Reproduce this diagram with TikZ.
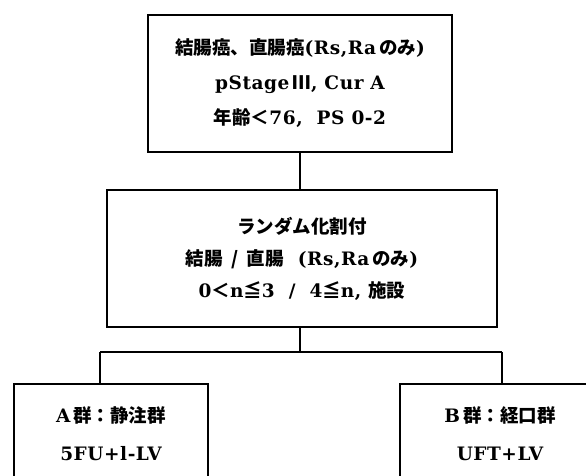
\documentclass[tikz,border=0pt]{standalone}
\usepackage{fontspec}
\setmainfont{DejaVu Serif}[BoldFont={DejaVu Serif Bold},LetterSpace=3]
\newfontfamily\jpb{Noto Sans CJK JP Bold}
\newfontfamily\jpm{Noto Sans CJK JP Medium}
\newcommand{\Jb}[1]{{\jpb #1}}
\newcommand{\Jm}[1]{{\jpm #1}}
\begin{document}
\begin{tikzpicture}[x=1pt,y=-1pt,
  box/.style={draw,line width=2pt,inner sep=0pt,align=center,font=\bfseries\fontsize{18.5}{35}\selectfont},
  link/.style={line width=1.6pt}]
\useasboundingbox (0,0) rectangle (586,475);
\clip (0,0) rectangle (586,475);
\node[box,minimum width=304pt,minimum height=137pt] (top) at (300,83.5)
  {\Jb{結腸癌、直腸癌}(Rs,Ra\,\Jm{のみ})\\ pStage\,\Jb{Ⅲ}, Cur A\\ \Jb{年齢＜}76,\ \ PS 0-2};
\node[box,minimum width=390pt,minimum height=137pt,font=\bfseries\fontsize{18.5}{32}\selectfont] (mid) at (302,258.5)
  {\Jm{ランダム化割付}\\ \Jb{結腸\ \ /\ \ 直腸}\ \ (Rs,Ra\,\Jm{のみ})\\ 0\Jb{＜}n\Jb{≦}3\ \ /\ \ 4\Jb{≦}n,\ \Jb{施設}};
\node[box,minimum width=194pt,minimum height=100pt,anchor=north west] (a) at (13,383)
  {A\,\Jb{群：静注群}\\[3pt] 5FU+l-LV};
\node[box,minimum width=200pt,minimum height=100pt,anchor=north west,text width=196pt] (b) at (399,383)
  {B\,\Jb{群：経口群}\\[3pt] UFT+LV};
\coordinate (j) at (300,352);
\coordinate (ja) at (100,352);
\coordinate (jb) at (502,352);
\draw[link] (top.south) -- (top.south |- mid.north);
\draw[link] (mid.south -| j) -- (j);
\draw[link] (ja) -- (jb);
\draw[link] (ja) -- (ja |- a.north);
\draw[link] (jb) -- (jb |- b.north);
\end{tikzpicture}
\end{document}
